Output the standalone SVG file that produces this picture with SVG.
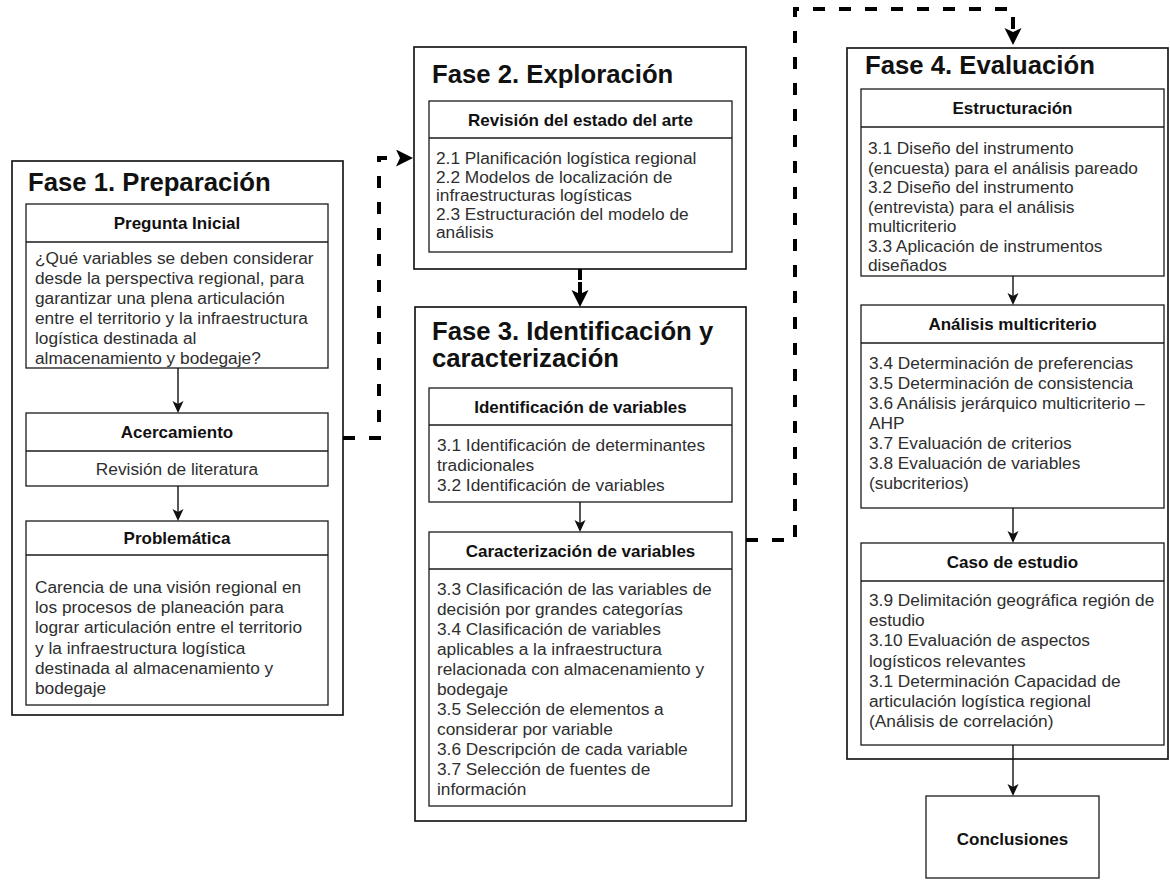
<svg xmlns="http://www.w3.org/2000/svg" width="1170" height="880" viewBox="0 0 1170 880">
<style>
.outer{fill:#fff;stroke:#1a1a1a;stroke-width:1.7}
.inner{fill:#fff;stroke:#1a1a1a;stroke-width:1.3}
.div{stroke:#1a1a1a;stroke-width:1.3}
.title{font-family:"Liberation Sans",Arial,sans-serif;font-weight:bold;font-size:25.7px;fill:#111}
.hdr{font-family:"Liberation Sans",Arial,sans-serif;font-weight:bold;font-size:17px;fill:#111;text-anchor:middle}
.body{font-family:"Liberation Sans",Arial,sans-serif;font-size:17.3px;fill:#2e2e2e}
.ctr{text-anchor:middle}
.thin{fill:none;stroke:#111;stroke-width:1.4}
.dash{fill:none;stroke:#000;stroke-width:4;stroke-dasharray:12 14}
</style>
<defs>
<marker id="ah" markerWidth="13" markerHeight="12" refX="3" refY="5.5" orient="auto" markerUnits="userSpaceOnUse">
<path d="M0,0 L12,5.5 L0,11 L3,5.5 Z" fill="#111"/>
</marker>
<marker id="ahb" markerWidth="18" markerHeight="18" refX="4" refY="8.5" orient="auto" markerUnits="userSpaceOnUse">
<path d="M0,0 L17,8.5 L0,17 L4,8.5 Z" fill="#000"/>
</marker>
</defs>
<rect width="1170" height="880" fill="#fff"/>

<g id="fase1">
<rect class="outer" x="12" y="161" width="331" height="554"/>
<text class="title" x="28" y="191">Fase 1. Preparación</text>
<g id="pregunta">
<rect class="inner" x="26" y="204" width="302" height="164"/>
<line class="div" x1="26" y1="242" x2="328" y2="242"/>
<text class="hdr" x="177" y="229">Pregunta Inicial</text>
<text class="body" x="35" y="264"><tspan x="35">¿Qué variables se deben considerar</tspan><tspan x="35" dy="20">desde la perspectiva regional, para</tspan><tspan x="35" dy="20">garantizar una plena articulación</tspan><tspan x="35" dy="20">entre el territorio y la infraestructura</tspan><tspan x="35" dy="20">logística destinada al</tspan><tspan x="35" dy="20">almacenamiento y bodegaje?</tspan></text>
</g>
<g id="acercamiento">
<rect class="inner" x="26" y="413" width="302" height="73"/>
<line class="div" x1="26" y1="451" x2="328" y2="451"/>
<text class="hdr" x="177" y="438">Acercamiento</text>
<text class="body ctr" x="177" y="475">Revisión de literatura</text>
</g>
<g id="problematica">
<rect class="inner" x="26" y="521" width="302" height="184"/>
<line class="div" x1="26" y1="555" x2="328" y2="555"/>
<text class="hdr" x="177" y="544">Problemática</text>
<text class="body" x="35" y="593"><tspan x="35">Carencia de una visión regional en</tspan><tspan x="35" dy="20.2">los procesos de planeación para</tspan><tspan x="35" dy="20.2">lograr articulación entre el territorio</tspan><tspan x="35" dy="20.2">y la infraestructura logística</tspan><tspan x="35" dy="20.2">destinada al almacenamiento y</tspan><tspan x="35" dy="20.2">bodegaje</tspan></text>
</g>
</g>

<g id="fase2">
<rect class="outer" x="414" y="47" width="332" height="222"/>
<text class="title" x="432" y="83">Fase 2. Exploración</text>
<g id="revision">
<rect class="inner" x="429" y="101" width="303" height="151"/>
<line class="div" x1="429" y1="138" x2="732" y2="138"/>
<text class="hdr" x="580.5" y="125.5">Revisión del estado del arte</text>
<text class="body" x="436" y="164"><tspan x="436">2.1 Planificación logística regional</tspan><tspan x="436" dy="18.6">2.2 Modelos de localización de</tspan><tspan x="436" dy="18.6">infraestructuras logísticas</tspan><tspan x="436" dy="18.6">2.3 Estructuración del modelo de</tspan><tspan x="436" dy="18.6">análisis</tspan></text>
</g>
</g>

<g id="fase3">
<rect class="outer" x="415" y="307" width="331" height="514"/>
<text class="title" x="432" y="340"><tspan x="432">Fase 3. Identificación y</tspan><tspan x="432" dy="27">caracterización</tspan></text>
<g id="identificacion">
<rect class="inner" x="429" y="388" width="303" height="114"/>
<line class="div" x1="429" y1="425" x2="732" y2="425"/>
<text class="hdr" x="580.5" y="412.5">Identificación de variables</text>
<text class="body" x="437" y="451"><tspan x="437">3.1 Identificación de determinantes</tspan><tspan x="437" dy="20">tradicionales</tspan><tspan x="437" dy="20">3.2 Identificación de variables</tspan></text>
</g>
<g id="caracterizacion">
<rect class="inner" x="429" y="532" width="303" height="274"/>
<line class="div" x1="429" y1="569" x2="732" y2="569"/>
<text class="hdr" x="580.5" y="556.5">Caracterización de variables</text>
<text class="body" x="437" y="595"><tspan x="437">3.3 Clasificación de las variables de</tspan><tspan x="437" dy="20">decisión por grandes categorías</tspan><tspan x="437" dy="20">3.4 Clasificación de variables</tspan><tspan x="437" dy="20">aplicables a la infraestructura</tspan><tspan x="437" dy="20">relacionada con almacenamiento y</tspan><tspan x="437" dy="20">bodegaje</tspan><tspan x="437" dy="20">3.5 Selección de elementos a</tspan><tspan x="437" dy="20">considerar por variable</tspan><tspan x="437" dy="20">3.6 Descripción de cada variable</tspan><tspan x="437" dy="20">3.7 Selección de fuentes de</tspan><tspan x="437" dy="20">información</tspan></text>
</g>
</g>

<g id="fase4">
<rect class="outer" x="847" y="48" width="321" height="711"/>
<text class="title" x="865" y="74">Fase 4. Evaluación</text>
<g id="estructuracion">
<rect class="inner" x="861" y="89" width="303" height="187"/>
<line class="div" x1="861" y1="127" x2="1164" y2="127"/>
<text class="hdr" x="1012.5" y="114">Estructuración</text>
<text class="body" x="868" y="154"><tspan x="868">3.1 Diseño del instrumento</tspan><tspan x="868" dy="19.5">(encuesta) para el análisis pareado</tspan><tspan x="868" dy="19.5">3.2 Diseño del instrumento</tspan><tspan x="868" dy="19.5">(entrevista) para el análisis</tspan><tspan x="868" dy="19.5">multicriterio</tspan><tspan x="868" dy="19.5">3.3 Aplicación de instrumentos</tspan><tspan x="868" dy="19.5">diseñados</tspan></text>
</g>
<g id="analisis">
<rect class="inner" x="861" y="305" width="303" height="203"/>
<line class="div" x1="861" y1="343" x2="1164" y2="343"/>
<text class="hdr" x="1012.5" y="330">Análisis multicriterio</text>
<text class="body" x="869" y="369"><tspan x="869">3.4 Determinación de preferencias</tspan><tspan x="869" dy="20">3.5 Determinación de consistencia</tspan><tspan x="869" dy="20">3.6 Análisis jerárquico multicriterio –</tspan><tspan x="869" dy="20">AHP</tspan><tspan x="869" dy="20">3.7 Evaluación de criterios</tspan><tspan x="869" dy="20">3.8 Evaluación de variables</tspan><tspan x="869" dy="20">(subcriterios)</tspan></text>
</g>
<g id="caso">
<rect class="inner" x="861" y="543" width="303" height="202"/>
<line class="div" x1="861" y1="581" x2="1164" y2="581"/>
<text class="hdr" x="1012.5" y="568">Caso de estudio</text>
<text class="body" x="869" y="606"><tspan x="869">3.9 Delimitación geográfica región de</tspan><tspan x="869" dy="20.2">estudio</tspan><tspan x="869" dy="20.2">3.10 Evaluación de aspectos</tspan><tspan x="869" dy="20.2">logísticos relevantes</tspan><tspan x="869" dy="20.2">3.1 Determinación Capacidad de</tspan><tspan x="869" dy="20.2">articulación logística regional</tspan><tspan x="869" dy="20.2">(Análisis de correlación)</tspan></text>
</g>
</g>

<g id="conclusiones">
<rect class="inner" x="926" y="796" width="173" height="82"/>
<text class="hdr" x="1012.5" y="845">Conclusiones</text>
</g>

<g id="connectors">
<path class="thin" d="M178,368 V404" marker-end="url(#ah)"/>
<path class="thin" d="M178,486 V512" marker-end="url(#ah)"/>
<path class="thin" d="M580,502 V523" marker-end="url(#ah)"/>
<path class="thin" d="M1013,276 V296" marker-end="url(#ah)"/>
<path class="thin" d="M1013,508 V534" marker-end="url(#ah)"/>
<path class="thin" d="M1013,745 V787" marker-end="url(#ah)"/>
<path class="dash" d="M343,438 H379 V158 H400" marker-end="url(#ahb)"/>
<path class="dash" d="M580,269 V294" style="stroke-dasharray:11 2 40" marker-end="url(#ahb)"/>
<path class="dash" d="M746,540 H795 V9 H1013 V32" marker-end="url(#ahb)"/>
</g>
</svg>
